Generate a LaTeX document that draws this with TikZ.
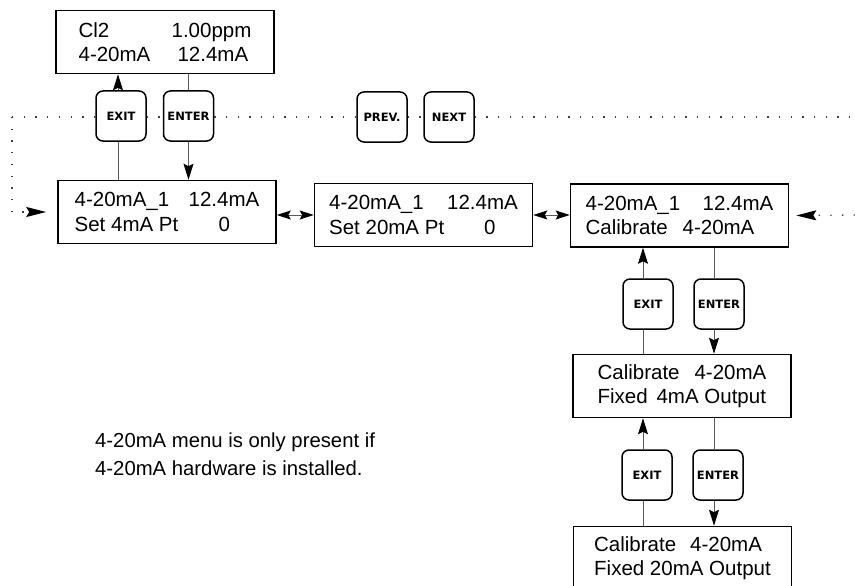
\documentclass[tikz,border=0pt]{standalone}
\usepackage{fontspec}
\setmainfont{Liberation Sans}
\newfontfamily\keyfont{DejaVu Sans}
\usetikzlibrary{positioning,arrows.meta}

\tikzset{
  lcd/.style={draw, line width=1.6pt, minimum width=218pt, minimum height=63pt,
    inner sep=0pt, align=left, font=\fontsize{20.5}{24.5}\selectfont},
  key/.style={draw, line width=1.5pt, rounded corners=7pt, fill=white,
    minimum width=50pt, minimum height=50pt, inner sep=0pt,
    font=\keyfont\bfseries\fontsize{11.5}{11.5}\selectfont},
  link/.style={draw=black!65, line width=1pt},
  tip/.style={-{Stealth[length=16pt,width=10pt,inset=2.5pt,color=black]}},
  longtip/.style={-{Stealth[length=20pt,width=10pt,inset=3pt,color=black]}},
  dbl/.style={{Stealth[length=14pt,width=9pt,inset=2.5pt,color=black]}-{Stealth[length=14pt,width=9pt,inset=2.5pt,color=black]}},
  dots/.style={draw=black!75, line width=1.3pt, dash pattern=on 1.3pt off 10.4pt},
  note/.style={align=left, inner sep=0pt, font=\fontsize{20.3}{28}\selectfont}
}
\newcommand{\lcdrow}[3]{\makebox[#1][l]{#2}#3}

\begin{document}
\begin{tikzpicture}[x=1pt, y=-1pt]
  \fill[white] (0,0) rectangle (855,586);
  \useasboundingbox (0,0) rectangle (855,586);

  % displays
  \node[lcd] (top) at (165,42) {\lcdrow{93pt}{Cl2}{1.00ppm}\\\lcdrow{99pt}{4-20mA}{12.4mA}};
  \node[lcd] (b1) at (167,212) {\lcdrow{114pt}{4-20mA\_1}{12.4mA}\\\lcdrow{144pt}{Set 4mA Pt}{0}};
  \node[lcd] (b2) at (423.5,215) {\lcdrow{118pt}{4-20mA\_1}{12.4mA}\\\lcdrow{155pt}{Set 20mA Pt}{0}};
  \node[lcd] (b3) at (679.5,215.5) {\lcdrow{117pt}{4-20mA\_1}{12.4mA}\\\lcdrow{97pt}{Calibrate}{4-20mA}};
  \node[lcd] (b4) at (682,386) {\lcdrow{97pt}{Calibrate}{4-20mA}\\\lcdrow{59pt}{Fixed}{4mA Output}};
  \node[lcd] (b5) at (682.5,558) {\lcdrow{96pt}{Calibrate}{4-20mA}\\Fixed 20mA Output};

  % keys
  \node[key] (exit1) at (121,116) {EXIT};
  \node[key] (enter1) at (188.5,116) {ENTER};
  \node[key] (prev) at (382,117) {PREV.};
  \node[key] (next) at (449,117) {NEXT};
  \node[key] (exit2) at (648,304) {EXIT};
  \node[key] (enter2) at (719,304) {ENTER};
  \node[key] (exit3) at (647,475) {EXIT};
  \node[key] (enter3) at (718,475) {ENTER};

  \node[note, anchor=base west] (remark) at (95,475)
    {4-20mA menu is only present if\\4-20mA hardware is installed.};

  % prev / next loop
  \coordinate (lcorner) at (12,117);
  \coordinate (rtop) at (855,117);
  \coordinate (rmid) at (855,215);
  \draw[dots] (lcorner) -- (lcorner -| exit1.west);
  \draw[dots] (exit1.east |- lcorner) -- (enter1.west |- lcorner);
  \draw[dots] (enter1.east |- lcorner) -- (prev.west |- lcorner);
  \draw[dots] (prev.east |- lcorner) -- (next.west |- lcorner);
  \draw[dots] (next.east |- lcorner) -- (rtop);
  \draw[dots,longtip] (lcorner) -- (lcorner |- b1.west) -- ([xshift=-11pt]b1.west);
  \draw[dots,longtip] (rmid) -- ([xshift=7pt]b3.east);
  \draw[link,dbl] (b1.east |- b2.west) -- (b2.west);
  \draw[link,dbl] (b2.east) -- (b3.west |- b2.east);

  % exit / enter
  \draw[link,tip] ([xshift=-3pt]exit1.north) -- ([xshift=-3pt]exit1.north |- top.south);
  \draw[link] ([xshift=-3pt]exit1.south) -- ([xshift=-3pt]exit1.south |- b1.north);
  \draw[link] (enter1.north) -- (enter1.north |- top.south);
  \draw[link,tip] (enter1.south) -- (enter1.south |- b1.north);

  \draw[link,tip] ([xshift=-5pt]exit2.north) -- ([xshift=-5pt]exit2.north |- b3.south);
  \draw[link] ([xshift=-5pt]exit2.south) -- ([xshift=-5pt]exit2.south |- b4.north);
  \draw[link] ([xshift=-5pt]enter2.north) -- ([xshift=-5pt]enter2.north |- b3.south);
  \draw[link,tip] ([xshift=-5pt]enter2.south) -- ([xshift=-5pt]enter2.south |- b4.north);

  \draw[link,tip] ([xshift=-4pt]exit3.north) -- ([xshift=-4pt]exit3.north |- b4.south);
  \draw[link] ([xshift=-4pt]exit3.south) -- ([xshift=-4pt]exit3.south |- b5.north);
  \draw[link] ([xshift=-4pt]enter3.north) -- ([xshift=-4pt]enter3.north |- b4.south);
  \draw[link,tip] ([xshift=-4pt]enter3.south) -- ([xshift=-4pt]enter3.south |- b5.north);
\end{tikzpicture}
\end{document}
